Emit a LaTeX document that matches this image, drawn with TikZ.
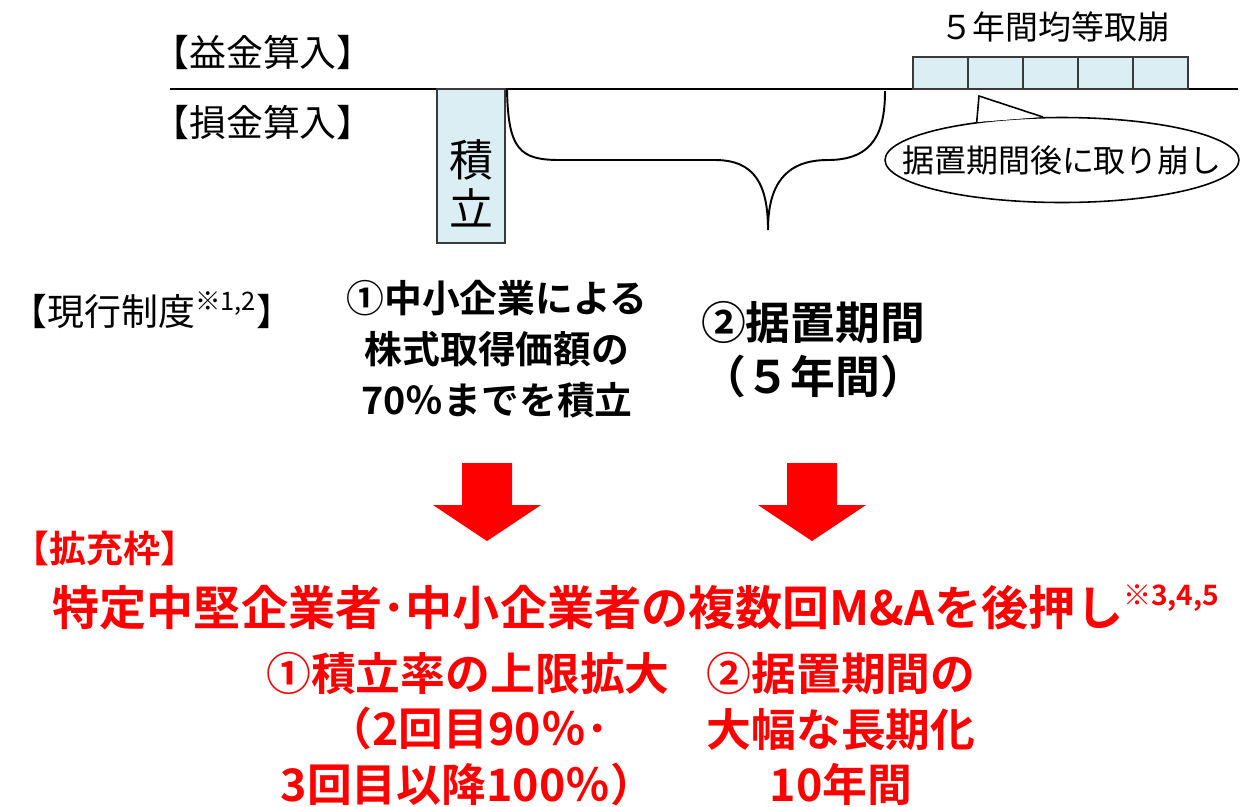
\documentclass[tikz,border=0pt]{standalone}
\usepackage{fontspec}
\setmainfont{Noto Sans CJK JP}[BoldFont={Noto Sans CJK JP Bold}]
\usetikzlibrary{positioning}
\usetikzlibrary{shapes.geometric}
\definecolor{RED}{HTML}{FF0000}
\definecolor{BOXFILL}{HTML}{DAEEF3}
\definecolor{BOXLINE}{HTML}{3A3A3A}
\newcommand\supnote[2][13]{\raisebox{0.42em}{\fontsize{#1}{#1}\selectfont #2}}
\tikzset{
	every node/.style = {inner sep=0pt},
	lbl/.style = {font=\fontsize{21}{24}\selectfont},
	small/.style = {font=\fontsize{18.2}{22}\selectfont},
	tate/.style = {font=\fontsize{25}{27.8}\selectfont, align=center},
	box/.style = {draw=BOXLINE, fill=BOXFILL, line width=0.9pt},
	blk/.style = {font=\bfseries\fontsize{21.5}{28.9}\selectfont, align=center},
	big/.style = {font=\bfseries\fontsize{25.5}{30.6}\selectfont, align=center},
	redlbl/.style = {text=RED, font=\bfseries\fontsize{21}{24}\selectfont},
	redtxt/.style = {text=RED, font=\bfseries\fontsize{25.5}{31.7}\selectfont, align=center}
}

\begin{document}
\begin{tikzpicture}[x=0.02cm, y=-0.02cm, line width=0.9pt]
		\useasboundingbox (0,0) rectangle (1241,806);
		% axis
		\coordinate (axL) at (170,89);
		\coordinate (axR) at (1238,89);
		\draw (axL) -- (axR);
		\node[lbl] (ekin) at (263,52) {【益金算入】};
		\node[lbl] (sonkin) at (263,122) {【損金算入】};
		% reserve
		\draw[box] (437,89) rectangle (505,243);
		\node[tate] (tumi) at (471,183) {積\\立};
		% brace
		\draw[line width=1.1pt] (507,89) .. controls (508,150) and (520,160) .. (560,160) -- (715,160)
		      .. controls (755,160) and (768,185) .. (768,230)
		      .. controls (768,185) and (785,160) .. (828,160)
		      .. controls (875,160) and (885,130) .. (885,91);
		% reversal over five years
		\foreach \i in {0,...,4}
			\draw[box] (913+55*\i,57) rectangle ++(55,32);
		\node[small, font=\fontsize{18.7}{22}\selectfont] (kinto) at (1055,27) {５年間均等取崩};
		% callout
		\node[draw, ellipse, fill=white, minimum width=7.08cm, minimum height=1.7cm] (suoki) at (1062,160) {};
		\coordinate (ptip) at (979,96);
		\fill[white] (suoki.156) -- (ptip) -- (suoki.114) -- cycle;
		\draw (suoki.156) -- (ptip) -- (suoki.114);
		\node[small] (suokitxt) at (suoki) {据置期間後に取り崩し};
		% current system
		\node[lbl, anchor=west] (genko) at (10,310) {【現行制度\supnote[14.5]{※1,2}】};
		\node[blk] (tumitate) at (497,349) {①中小企業による\\株式取得価額の\\70％までを積立};
		\node[big] (kikan) at (813,350) {②据置期間\\（５年間）};
		% arrows
		\foreach \cx in {487,812}
			\fill[RED] (\cx-25,463) -- (\cx+25,463) -- (\cx+25,505) -- (\cx+54,505)
			      -- (\cx,541) -- (\cx-54,505) -- (\cx-25,505) -- cycle;
		% expansion
		\node[redlbl, anchor=west] (kakuju) at (12,548) {【拡充枠】};
		\node[redtxt, font=\bfseries\fontsize{26.8}{32}\selectfont] (title) at (636,607) {特定中堅企業者･中小企業者の複数回M\&Aを後押し\supnote[16]{※3,4,5}};
		\node[redtxt] (ritu) at (468,729) {①積立率の上限拡大\\（2回目90％･\\3回目以降100％）};
		\node[redtxt] (tyoki) at (841,729) {②据置期間の\\大幅な長期化\\10年間};
	\end{tikzpicture}
\end{document}
